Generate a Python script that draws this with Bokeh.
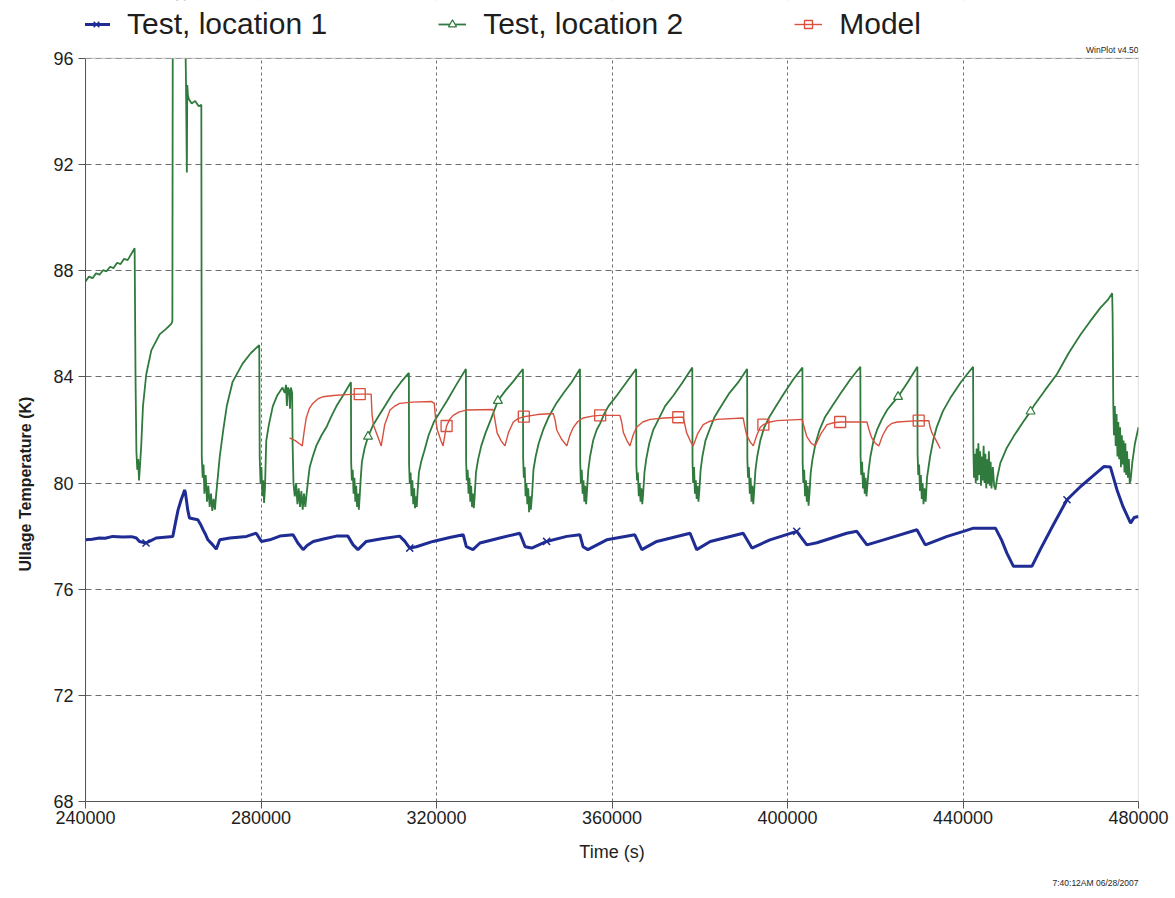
from bokeh.plotting import figure
from bokeh.models import (Range1d, FixedTicker, BasicTickFormatter, Legend,
                          LegendItem, Title, Label, BoxAnnotation)
from bokeh.embed import file_html
from bokeh.resources import INLINE

# ---------------------------------------------------------------
# Data: time in kiloseconds, ullage temperature in kelvin
# ---------------------------------------------------------------

# Test, location 1
loc1_time_ks = [
    240.0, 241.5, 243.2, 244.5, 246.2, 248.5, 250.5, 251.6, 252.3, 253.8,
    254.8, 256.1, 258.0, 259.9, 260.5, 261.1, 261.8, 262.3, 262.6, 262.8,
    263.3, 263.7, 265.6, 266.2, 266.8, 267.4, 267.9, 269.0, 269.8, 270.6,
    272.9, 276.7, 278.9, 280.1, 282.0, 284.3, 287.3, 288.4, 289.6, 290.5,
    291.9, 294.5, 297.2, 299.8, 301.0, 302.1, 304.0, 307.5, 311.6, 312.8,
    313.9, 315.4, 319.2, 323.0, 326.1, 326.8, 328.3, 329.9, 334.4, 339.0,
    340.2, 341.7, 345.1, 349.7, 352.7, 353.4, 354.5, 358.8, 365.2, 366.8,
    370.2, 377.8, 379.3, 382.4, 389.9, 391.9, 396.0, 402.1, 404.4, 406.7,
    413.5, 415.8, 418.1, 421.9, 429.5, 431.4, 436.4, 440.1, 442.4, 447.4,
    448.8, 450.0, 451.5, 455.7, 457.6, 460.5, 463.7, 466.8, 469.5, 472.1,
    473.6, 475.1, 476.5, 478.2, 479.0, 480.0,
]
loc1_temp = [
    77.86, 77.88, 77.93, 77.92, 77.99, 77.97, 77.98, 77.93, 77.80, 77.74,
    77.82, 77.93, 77.96, 77.99, 78.50, 78.99, 79.37, 79.60, 79.74, 79.60,
    78.99, 78.68, 78.62, 78.45, 78.24, 78.05, 77.86, 77.67, 77.51, 77.86,
    77.93, 77.99, 78.11, 77.80, 77.86, 78.00, 78.05, 77.74, 77.49, 77.65,
    77.80, 77.90, 78.00, 78.00, 77.67, 77.49, 77.80, 77.90, 78.00, 77.80,
    77.55, 77.60, 77.80, 77.95, 78.05, 77.60, 77.49, 77.74, 77.93, 78.11,
    77.60, 77.55, 77.80, 77.99, 78.05, 77.60, 77.49, 77.86, 78.05, 77.49,
    77.80, 78.11, 77.49, 77.80, 78.11, 77.55, 77.86, 78.18, 77.67, 77.75,
    78.11, 78.18, 77.67, 77.86, 78.24, 77.67, 77.99, 78.18, 78.30, 78.30,
    77.85, 77.36, 76.86, 76.86, 77.49, 78.40, 79.37, 79.87, 80.25, 80.62,
    80.60, 79.74, 79.10, 78.49, 78.70, 78.74,
]
loc1_mark_time_ks = [253.8, 313.9, 345.1, 402.1, 463.7]
loc1_mark_temp = [77.74, 77.55, 77.80, 78.18, 79.37]

# Test, location 2
loc2_time_ks = [
    # warm start and first drop
    240.0, 240.8, 241.6, 242.4, 243.2, 244.0, 244.8, 245.6, 246.4, 247.2,
    248.0, 248.8, 249.6, 250.4, 251.2,
    251.4, 251.6, 251.8, 252.0, 252.2, 252.4, 252.7, 253.1, 253.85, 255.0,
    256.9, 258.3, 259.55, 259.8,
    # excursion above the scale
    259.9, 262.6, 262.9, 263.1, 263.2, 263.35, 263.6, 264.2, 265.0, 265.8,
    266.4,
    266.5, 266.7, 266.9, 267.1, 267.4, 267.7, 268.0, 268.3, 268.6, 268.9,
    269.2, 269.5, 269.8, 270.2, 270.6, 271.4, 272.2, 273.5, 275.8, 277.7,
    279.6,
    279.7, 279.9, 280.1, 280.3, 280.5, 280.7, 280.9, 281.0, 281.2, 281.8,
    282.7, 283.7, 284.9, 285.4, 285.7, 285.9, 286.1, 286.4, 286.6, 286.8,
    287.1,
    # repeated vent cycles
    287.2, 287.4, 287.7, 288.0, 288.3, 288.6, 288.9, 289.2, 289.5, 289.8,
    290.1, 290.4, 290.8, 291.1, 291.8, 292.6, 293.8, 294.9, 296.0, 297.2,
    298.7, 300.5,
    300.55, 300.7, 300.9, 301.1, 301.3, 301.5, 301.7, 301.9, 302.1, 302.3,
    302.5, 302.7, 303.0, 303.6, 304.4, 305.6, 307.1, 308.6, 310.1, 311.9,
    313.7,
    313.75, 313.9, 314.1, 314.3, 314.5, 314.7, 314.9, 315.1, 315.3, 315.5,
    315.7, 316.0, 316.5, 317.2, 318.2, 319.4, 320.9, 322.4, 324.5, 326.7,
    326.75, 326.9, 327.1, 327.3, 327.5, 327.7, 327.9, 328.1, 328.3, 328.5,
    328.7, 329.0, 329.5, 330.2, 331.2, 332.4, 334.0, 335.8, 337.6, 339.7,
    339.75, 339.9, 340.1, 340.3, 340.5, 340.7, 340.9, 341.1, 341.3, 341.5,
    341.8, 342.1, 342.6, 343.3, 344.3, 345.6, 347.3, 349.0, 350.8, 352.7,
    352.75, 352.9, 353.1, 353.3, 353.5, 353.7, 353.9, 354.1, 354.3, 354.6,
    355.0, 355.7, 356.5, 357.3, 358.2, 359.2, 361.1, 363.3, 365.5,
    365.55, 365.7, 365.9, 366.1, 366.3, 366.5, 366.7, 366.9, 367.1, 367.4,
    367.8, 368.5, 369.4, 370.6, 372.1, 374.0, 376.1, 378.3,
    378.35, 378.5, 378.7, 378.9, 379.1, 379.3, 379.5, 379.7, 379.9, 380.2,
    380.6, 381.3, 382.2, 383.4, 384.9, 386.8, 388.8, 390.8,
    390.85, 391.0, 391.2, 391.4, 391.6, 391.8, 392.0, 392.2, 392.4, 392.7,
    393.1, 393.8, 394.7, 395.9, 397.4, 399.3, 401.3, 403.4,
    403.45, 403.6, 403.8, 404.0, 404.2, 404.4, 404.6, 404.8, 405.0, 405.3,
    405.7, 406.4, 407.3, 408.6, 410.2, 412.2, 414.3, 416.6,
    416.65, 416.8, 417.0, 417.2, 417.4, 417.6, 417.8, 418.0, 418.2, 418.5,
    418.9, 419.6, 420.4, 421.5, 422.7, 423.9, 425.2, 427.4, 429.6,
    429.65, 429.8, 430.0, 430.2, 430.4, 430.6, 430.8, 431.0, 431.2, 431.5,
    431.8, 432.5, 433.2, 434.0, 435.4, 437.1, 439.5, 442.3,
    # long noisy vent and slow warm-up
    442.35, 442.5, 442.7, 442.9, 443.1, 443.3, 443.5, 443.7, 443.9, 444.1,
    444.3, 444.5, 444.7, 444.9, 445.1, 445.3, 445.5, 445.7, 445.9, 446.1,
    446.3, 446.5, 446.8, 447.1, 447.4, 447.8, 448.5, 449.9, 451.5, 453.7,
    455.4, 456.1, 458.7, 461.4, 464.1, 466.8, 469.0, 471.3, 473.0, 474.0,
    474.1, 474.25, 474.4, 474.6, 474.8, 475.0, 475.2, 475.4, 475.6, 475.8,
    476.0, 476.2, 476.4, 476.6, 476.8, 477.0, 477.2, 477.4, 477.6, 477.8,
    478.0, 478.2, 478.6, 479.2, 480.0,
]
loc2_temp = [
    87.60, 87.78, 87.72, 87.90, 87.85, 88.02, 87.98, 88.15, 88.10, 88.30,
    88.25, 88.45, 88.40, 88.62, 88.85,
    84.0, 81.2, 80.5, 80.9, 80.1, 80.6, 81.4, 82.9, 84.1, 85.0,
    85.6, 85.8, 86.0, 86.1,
    98.0, 98.5, 95.2, 91.7, 95.0, 94.6, 94.45, 94.3, 94.4, 94.2,
    94.25,
    81.0, 80.2, 80.7, 79.6, 80.3, 79.3, 79.9, 79.1, 79.6, 78.95,
    79.4, 79.0, 79.6, 80.3, 81.0, 82.0, 82.9, 83.8, 84.5, 84.9,
    85.2,
    81.0, 80.0, 80.6, 79.5, 80.1, 79.25, 79.8, 80.4, 81.6, 82.2,
    82.9, 83.3, 83.6, 83.4, 83.7, 82.9, 83.6, 83.5, 82.8, 83.6,
    83.4,
    81.5, 80.0, 79.5, 80.0, 79.2, 79.8, 79.1, 79.7, 79.0, 79.6,
    79.1, 79.6, 80.2, 80.6, 81.0, 81.4, 81.8, 82.1, 82.5, 82.9,
    83.3, 83.8,
    80.8, 80.1, 80.5, 79.6, 80.2, 79.3, 79.9, 79.1, 79.6, 79.0,
    79.5, 80.1, 80.8, 81.3, 81.75, 82.2, 82.6, 83.0, 83.4, 83.8,
    84.15,
    80.7, 80.0, 80.4, 79.5, 80.1, 79.2, 79.8, 79.05, 79.5, 79.1,
    79.7, 80.4, 80.8, 81.2, 81.8, 82.3, 82.7, 83.1, 83.7, 84.3,
    80.8, 80.1, 80.5, 79.6, 80.2, 79.3, 79.9, 79.1, 79.6, 79.05,
    79.5, 80.4, 80.9, 81.4, 81.9, 82.4, 83.1, 83.5, 83.85, 84.3,
    80.9, 80.2, 80.6, 79.5, 80.0, 79.2, 79.8, 78.9, 79.5, 79.0,
    79.6, 80.5, 81.0, 81.5, 82.0, 82.5, 83.0, 83.4, 83.8, 84.3,
    80.8, 80.0, 80.5, 79.6, 80.1, 79.3, 79.9, 79.2, 79.7, 80.5,
    81.0, 81.6, 82.0, 82.25, 82.6, 82.9, 83.3, 83.8, 84.3,
    80.7, 80.1, 80.4, 79.5, 80.0, 79.3, 79.8, 79.2, 79.6, 80.4,
    80.9, 81.5, 82.0, 82.4, 82.9, 83.3, 83.8, 84.35,
    80.8, 80.0, 80.6, 79.6, 80.1, 79.4, 79.9, 79.3, 79.7, 80.5,
    81.0, 81.6, 82.0, 82.5, 82.9, 83.4, 83.8, 84.3,
    80.9, 80.2, 80.6, 79.6, 80.2, 79.3, 79.9, 79.2, 79.7, 80.5,
    81.0, 81.6, 82.1, 82.5, 82.9, 83.4, 83.9, 84.35,
    80.8, 80.0, 80.5, 79.5, 80.1, 79.3, 79.9, 79.15, 79.6, 80.4,
    80.9, 81.5, 82.0, 82.5, 82.9, 83.4, 83.9, 84.38,
    81.0, 80.3, 80.8, 79.8, 80.4, 79.6, 80.2, 79.5, 79.9, 80.5,
    81.0, 81.6, 82.0, 82.4, 82.75, 83.0, 83.25, 83.8, 84.38,
    81.1, 80.3, 80.7, 79.7, 80.3, 79.4, 80.0, 79.2, 79.8, 79.3,
    80.2, 81.0, 81.6, 82.1, 82.7, 83.2, 83.8, 84.38,
    81.4, 80.2, 81.1, 80.0, 81.3, 80.1, 81.5, 80.3, 81.2, 79.9,
    81.0, 80.1, 81.4, 80.0, 81.1, 79.8, 80.9, 80.0, 81.2, 79.9,
    80.8, 79.8, 80.6, 79.9, 79.75, 80.2, 80.75, 81.3, 81.75, 82.3,
    82.7, 82.9, 83.5, 84.1, 84.9, 85.6, 86.1, 86.6, 86.9, 87.15,
    86.3, 83.0, 81.8, 82.9, 81.4, 82.6, 81.0, 82.3, 80.9, 82.1,
    80.6, 81.8, 80.7, 81.6, 80.4, 81.5, 80.3, 81.2, 80.2, 80.9,
    80.0, 80.1, 80.8, 81.5, 82.1,
]
loc2_mark_time_ks = [304.4, 334.0, 425.2, 455.4]
loc2_mark_temp = [81.75, 83.1, 83.25, 82.7]

# Model
model_time_ks = [
    286.5, 287.8, 289.0, 289.4, 289.8, 290.3, 291.0, 291.8, 293.0, 294.1,
    296.5, 299.4, 302.5, 305.1, 305.3, 305.6, 306.5, 307.4, 308.2, 309.4,
    310.5, 311.6, 314.5, 318.9, 319.5, 319.8, 320.2, 321.0, 321.5, 322.0,
    322.3, 323.0, 323.8, 325.2, 326.8, 332.9, 333.3, 333.8, 334.7, 335.6,
    336.4, 337.5, 338.5, 339.9, 343.0, 346.6, 347.0, 347.4, 348.5, 349.7,
    350.4, 351.2, 352.2, 353.4, 355.5, 357.3, 361.8, 362.2, 362.6, 363.4,
    364.1, 364.8, 365.6, 367.0, 368.7, 372.0, 375.1, 376.2, 376.6, 377.0,
    377.8, 378.5, 379.5, 380.8, 382.2, 383.9, 389.9, 390.3, 390.7, 391.5,
    392.2, 393.0, 393.8, 394.5, 396.0, 397.6, 403.3, 403.8, 404.4, 405.4,
    406.3, 407.6, 409.0, 410.5, 412.0, 418.1, 418.6, 419.2, 420.0, 420.8,
    421.7, 422.7, 423.8, 425.0, 429.9, 432.2, 432.5, 432.9, 433.9, 434.8,
]
model_temp = [
    81.70, 81.60, 81.45, 81.40, 81.90, 82.45, 82.80, 83.00, 83.18, 83.25,
    83.30, 83.33, 83.35, 83.35, 82.60, 82.20, 81.80, 81.40, 82.20, 82.75,
    82.90, 83.00, 83.05, 83.07, 83.00, 82.40, 82.00, 81.60, 81.40, 81.90,
    82.15, 82.40, 82.55, 82.68, 82.75, 82.77, 82.40, 81.90, 81.60, 81.40,
    81.90, 82.30, 82.42, 82.50, 82.58, 82.62, 82.40, 82.00, 81.65, 81.40,
    81.80, 82.10, 82.32, 82.45, 82.52, 82.55, 82.55, 82.30, 81.90, 81.60,
    81.40, 81.80, 82.10, 82.30, 82.40, 82.45, 82.48, 82.48, 82.20, 81.90,
    81.60, 81.40, 81.85, 82.20, 82.32, 82.40, 82.45, 82.10, 81.80, 81.55,
    81.40, 81.80, 82.10, 82.20, 82.30, 82.35, 82.40, 82.10, 81.75, 81.50,
    81.40, 81.85, 82.20, 82.27, 82.30, 82.30, 82.00, 81.70, 81.50, 81.40,
    81.80, 82.10, 82.25, 82.30, 82.35, 82.35, 82.10, 81.90, 81.60, 81.30,
]
model_mark_time_ks = [302.5, 322.3, 339.9, 357.3, 375.1, 394.5, 412.0, 429.9]
model_mark_temp = [83.35, 82.15, 82.50, 82.55, 82.48, 82.20, 82.30, 82.35]

x_ticks = [240000, 280000, 320000, 360000, 400000, 440000, 480000]
y_ticks = [68, 72, 76, 80, 84, 88, 92, 96]


def seconds(ks_list):
    return [t * 1000.0 for t in ks_list]


FONT = "Liberation Sans"
INK = "#1e1e1e"
FRAME = "#555555"
BLUE = "#1f2c93"
GREEN = "#2f7a3c"
RED = "#d8503e"

T_MIN, T_MAX = 240000, 480000
Y_MIN, Y_MAX = 68, 96

# The drawing area reaches the top of the page so the key and the stamp
# above the axes box can live inside it; the axes box itself ends at Y_MAX.
CANVAS_H, BOX_TOP_PX, BOX_BOTTOM_PX = 898, 58, 802
y_headroom = (Y_MAX - Y_MIN) * BOX_TOP_PX / (BOX_BOTTOM_PX - BOX_TOP_PX)

p = figure(
    width=1175, height=CANVAS_H,
    x_range=Range1d(T_MIN, T_MAX), y_range=Range1d(Y_MIN, Y_MAX + y_headroom),
    output_backend="svg", toolbar_location=None, title=None,
    min_border_left=85, min_border_right=37,
    min_border_top=0, min_border_bottom=CANVAS_H - BOX_BOTTOM_PX,
    background_fill_color="white", border_fill_color="white",
)
p.outline_line_color = None

# axes
for ax in (p.xaxis[0], p.yaxis[0]):
    ax.axis_line_color = FRAME
    ax.major_tick_line_color = FRAME
    ax.major_tick_out = 7
    ax.major_tick_in = 0
    ax.minor_tick_out = 0
    ax.minor_tick_in = 0
    ax.major_label_text_font = FONT
    ax.major_label_text_font_size = "18px"
    ax.major_label_text_color = INK

p.xaxis.ticker = FixedTicker(ticks=x_ticks)
p.xaxis.formatter = BasicTickFormatter(use_scientific=False)
p.xaxis.major_label_standoff = 2
p.xaxis.axis_label = "Time (s)"
p.xaxis.axis_label_text_font = FONT
p.xaxis.axis_label_text_font_size = "18px"
p.xaxis.axis_label_text_font_style = "normal"
p.xaxis.axis_label_text_color = INK
p.xaxis.axis_label_standoff = 15

p.yaxis.ticker = FixedTicker(ticks=y_ticks)
p.yaxis.major_label_standoff = 5
p.yaxis.bounds = (Y_MIN, Y_MAX)

# dashed grid
p.xgrid.ticker = FixedTicker(ticks=x_ticks)
p.ygrid.ticker = FixedTicker(ticks=y_ticks)
p.xgrid.grid_line_color = "#6e6e6e"
p.xgrid.grid_line_dash = "3 3"
p.xgrid.grid_line_width = 1
p.ygrid.grid_line_color = "#6e6e6e"
p.ygrid.grid_line_dash = "6 4"
p.ygrid.grid_line_width = 1

# series
l1 = p.line(seconds(loc1_time_ks), loc1_temp, line_color=BLUE, line_width=3)
m1 = p.scatter(seconds(loc1_mark_time_ks), loc1_mark_temp, marker="x",
               size=10, line_color=BLUE, line_width=1.5)

l2 = p.line(seconds(loc2_time_ks), loc2_temp, line_color=GREEN, line_width=1.8)
m2 = p.scatter(seconds(loc2_mark_time_ks), loc2_mark_temp, marker="triangle",
               size=9, line_color=GREEN, fill_color="white", line_width=1.2)

l3 = p.line(seconds(model_time_ks), model_temp, line_color=RED, line_width=1.4)
m3 = p.scatter(seconds(model_mark_time_ks), model_mark_temp, marker="square",
               size=11, line_color=RED, fill_color=None, line_width=1.3)

# blank strip above the axes box (hides grid and anything off scale)
p.add_layout(BoxAnnotation(left=T_MIN - 1000, right=T_MAX + 1000, bottom=Y_MAX,
                           top=Y_MAX + 2 * y_headroom, fill_color="white",
                           fill_alpha=1.0, line_alpha=0))
# axes box
p.add_layout(BoxAnnotation(left=T_MIN, right=T_MAX, bottom=Y_MIN, top=Y_MAX,
                           fill_alpha=0, line_color=FRAME, line_width=1.2))

# series key across the top
key = Legend(
    items=[LegendItem(label="Test, location 1", renderers=[l1, m1]),
           LegendItem(label="Test, location 2", renderers=[l2, m2]),
           LegendItem(label="Model", renderers=[l3, m3])],
    location=(-3, 760), orientation="horizontal",
    label_text_font=FONT, label_text_font_size="30px",
    label_text_color=INK, label_standoff=17,
    glyph_width=28, glyph_height=20,
    padding=0, margin=0, spacing=111,
    border_line_alpha=0, background_fill_alpha=0,
)
p.add_layout(key)

# program stamp just above the top-right corner of the axes box
p.add_layout(Label(x=T_MAX, y=Y_MAX, y_offset=3, text="WinPlot v4.50",
                   text_align="right", text_baseline="bottom",
                   text_font=FONT, text_font_size="8.5px", text_color=INK))

# vertical axis title
p.add_layout(Title(text="Ullage Temperature (K)", align="left", offset=230,
                   vertical_align="top", standoff=30,
                   text_font=FONT, text_font_size="16px",
                   text_font_style="bold", text_color=INK), "left")

# print time stamp under the axis title
p.add_layout(Title(text="7:40:12AM 06/28/2007", align="right", offset=0,
                   standoff=22, text_font=FONT, text_font_size="8.5px",
                   text_font_style="normal", text_color=INK), "below")

open("out.html", "w").write(file_html(p, INLINE))
